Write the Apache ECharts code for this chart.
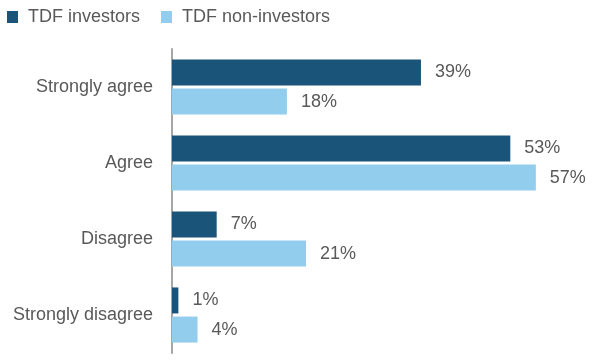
<!DOCTYPE html>
<html>
<head>
<meta charset="utf-8">
<script src="https://cdn.jsdelivr.net/npm/echarts@6/dist/echarts.min.js"></script>
<style>html,body{margin:0;padding:0;background:#fff;}#c{width:592px;height:364px;}</style>
</head>
<body>
<div id="c"></div>
<script>
const categories = ["Strongly agree", "Agree", "Disagree", "Strongly disagree"];
const seriesNames = ["TDF investors", "TDF non-investors"];
const investors = [39, 53, 7, 1];
const nonInvestors = [18, 57, 21, 4];

const chart = echarts.init(document.getElementById('c'), null, {renderer: 'canvas'});
const font = "'Liberation Sans', Arial, sans-serif";
const textColor = '#595959';
const labelCfg = {
  show: true, position: 'right', distance: 14,
  formatter: p => p.value + '%',
  color: textColor, fontSize: 18, fontFamily: font
};
chart.setOption({
  animation: false,
  textStyle: {fontFamily: font},
  legend: {
    left: 7, top: 8, padding: 0,
    itemWidth: 11, itemHeight: 12, itemGap: 21,
    icon: 'rect',
    textStyle: {color: textColor, fontSize: 18, fontFamily: font, padding: [0, 0, 0, 5]},
    data: seriesNames
  },
  grid: {left: 172, right: 37, top: 49, bottom: 11, containLabel: false},
  xAxis: {
    type: 'value', min: 0, max: 60,
    show: false
  },
  yAxis: {
    type: 'category', inverse: true, data: categories,
    axisLine: {show: true, lineStyle: {color: '#a6a6a6', width: 2}},
    axisTick: {show: false},
    axisLabel: {color: textColor, fontSize: 18, fontFamily: font, margin: 19}
  },
  series: [
    {name: seriesNames[0], type: 'bar', data: investors, barWidth: 26, barGap: '12%',
     itemStyle: {color: '#1a5478'}, label: labelCfg},
    {name: seriesNames[1], type: 'bar', data: nonInvestors, barWidth: 26, barGap: '12%',
     itemStyle: {color: '#93cdee'}, label: labelCfg}
  ]
});
</script>
</body>
</html>
